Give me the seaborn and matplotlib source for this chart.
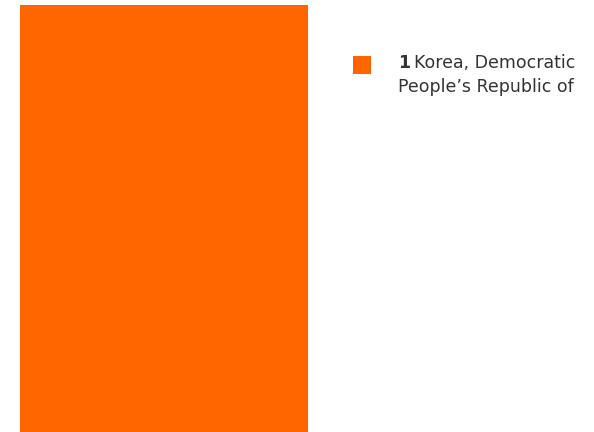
import matplotlib
matplotlib.use("Agg")
import matplotlib.pyplot as plt
import seaborn as sns
import pandas as pd
from matplotlib.patches import Rectangle

ranks = [1]
countries = ["Korea, Democratic People\u2019s Republic of"]
label_lines = [["Korea, Democratic", "People\u2019s Republic of"]]
values = [100.0]
colors = ["#FF6600"]

sns.set_style("white")
plt.rcParams['font.family'] = ['DejaVu Sans']

W, H = 594, 432
fig = plt.figure(figsize=(W / 100, H / 100), dpi=100)
ax = fig.add_axes([20 / W, 0, 288 / W, 427 / H])

df = pd.DataFrame({"country": countries, "value": values})
sns.barplot(data=df, x="country", y="value", hue="country", palette=colors,
            width=1.0, legend=False, ax=ax, saturation=1, linewidth=0)
ax.set_xlim(-0.5, len(countries) - 0.5)
ax.set_ylim(0, max(values))
ax.axis("off")

# legend
text_color = "#333333"
fs = 12.5
for i, (r, lines, c) in enumerate(zip(ranks, label_lines, colors)):
    y0 = 56 + i * 60
    fig.patches.append(Rectangle((353 / W, 1 - (y0 + 18) / H), 18 / W, 18 / H,
                                 transform=fig.transFigure, facecolor=c,
                                 edgecolor="none"))
    base1 = 1 - 67.5 / H
    t1 = fig.text(398 / W, base1, str(r), fontsize=fs, fontweight="bold",
                  color=text_color, va="baseline", ha="left")
    ax.annotate(lines[0], xy=(1, 0), xycoords=t1, xytext=(2.5, 0),
                textcoords="offset points", fontsize=fs, color=text_color,
                va="bottom", ha="left", annotation_clip=False)
    fig.text(398 / W, 1 - 91.5 / H, lines[1], fontsize=fs, color=text_color,
             va="baseline", ha="left")

fig.savefig("out.png", dpi=100)
